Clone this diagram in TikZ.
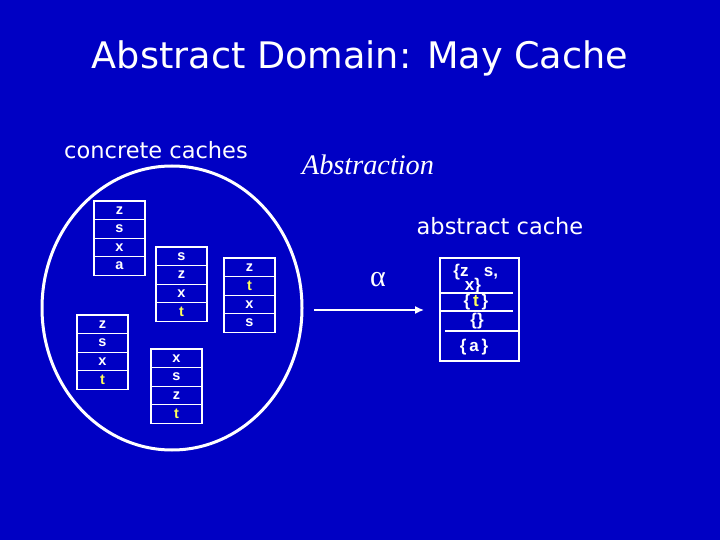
\documentclass[tikz,border=0pt]{standalone}
\usepackage{fontspec}
\usetikzlibrary{arrows.meta}
\setmainfont{DejaVu Sans}
\newfontfamily\cellfont{Liberation Sans}
\newfontfamily\timesfont{Liberation Serif}
\definecolor{slideblue}{RGB}{0,0,196}
\definecolor{tyellow}{RGB}{255,255,90}
\newcommand{\yt}{\textcolor{tyellow}{t}}
% one concrete cache: name, left x, top y, four lines
\newcommand{\cachecol}[4]{%
  \foreach \item [count=\i] in {#4} {
    \node[cell] (#1-\i) at (#2+25.5, #3+18.6*\i-9.3) {\item};
  }}
\tikzset{
  cell/.style={draw=white, line width=1.3pt, minimum width=51pt, minimum height=18.6pt,
    inner sep=0pt, text=white, font=\cellfont\bfseries\fontsize{14.5}{14.5}\selectfont},
  label/.style={text=white, inner sep=0pt}
}
\begin{document}
\begin{tikzpicture}[x=1pt, y=-1pt, line width=1.3pt]
\fill[slideblue] (0,0) rectangle (720,540);
\useasboundingbox (0,0) rectangle (720,540);

\node[label, font=\fontsize{36.6}{36.6}\selectfont] (title) at (360,58) {Abstract Domain: May Cache};
\node[label, font=\fontsize{22.5}{22.5}\selectfont] (conc) at (156,150) {concrete caches};
\node[label, font=\timesfont\itshape\fontsize{28.3}{28.3}\selectfont] (abstr) at (368,165) {Abstraction};
\node[label, font=\fontsize{22.5}{22.5}\selectfont] (acache) at (500,226) {abstract cache};

% the set of concrete caches
\draw[white, line width=3pt] (172,308) ellipse [x radius=130, y radius=142];
\cachecol{ca}{94}{201}{z,s,x,a}
\cachecol{cb}{156}{247}{s,z,x,\yt}
\cachecol{cc}{224}{258}{z,\yt,x,s}
\cachecol{cd}{77}{315}{z,s,x,\yt}
\cachecol{ce}{151}{349}{x,s,z,\yt}

% abstraction function
\coordinate (from) at (314,310);
\coordinate (to) at (424,310);
\draw[white, line width=1.5pt, -{Latex[length=9pt,width=8pt]}] (from) -- (to);
\node[label, font=\timesfont\fontsize{30}{30}\selectfont] (alpha) at (378,280) {α};

% the abstract cache
\node[draw=white, line width=1.3pt, minimum width=79pt, minimum height=103pt, inner sep=0pt] (abox) at (479.5,309.5) {};
\draw[white, line width=1.3pt] (440,293) -- (513,293);
\draw[white, line width=1.3pt] (440,311) -- (513,311);
\draw[white, line width=1.3pt] (445,331) -- (519,331);
\begin{scope}[every node/.style={label, font=\cellfont\bfseries\fontsize{17}{17}\selectfont}]
\node (z1) at (461,272) {\{z};
\node (s1) at (491,273) {s,};
\node (x1) at (473,286) {x\}};
\node (t2) at (476,302) {\{\,\yt\,\}};
\node (e3) at (477,321) {\{\}};
\node (a4) at (474,347) {\{\,a\,\}};
\end{scope}
\end{tikzpicture}
\end{document}
